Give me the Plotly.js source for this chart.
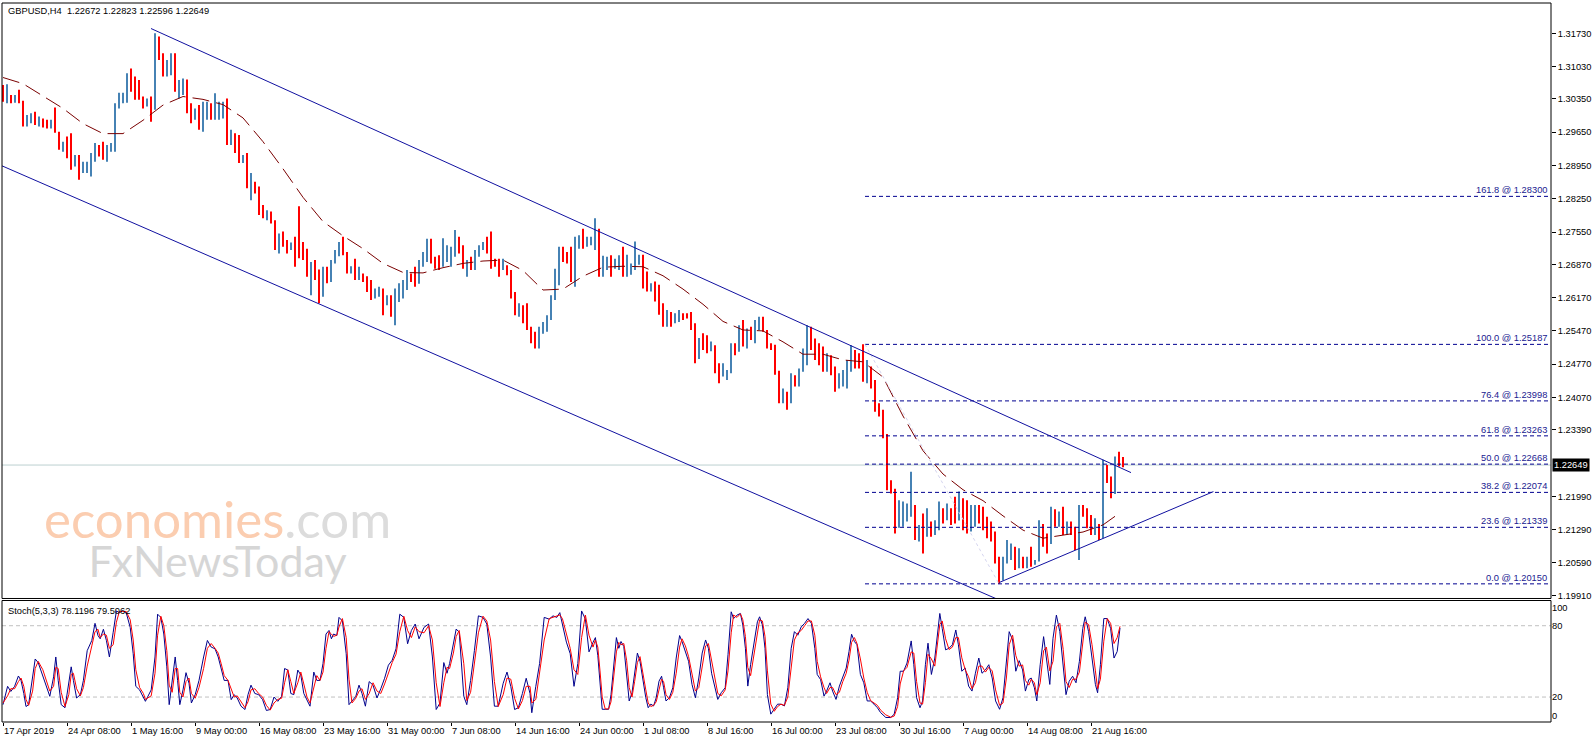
<!DOCTYPE html>
<html>
<head>
<meta charset="utf-8">
<script src="https://cdn.plot.ly/plotly-3.0.1.min.js"></script>
<style>
  html, body { margin: 0; padding: 0; background: #fff; }
  #chart { width: 1596px; height: 743px; }
</style>
</head>
<body>
<div id="chart"></div>
<script>
// GBPUSD H4. x is the H4 bar number; each price bar below covers two H4 bars.
const barStep = 2;
const firstOpen = 1.3045;

const highs = [
  1.3064,1.3066,1.3043,1.3043,1.3054,1.3031,1.3001,1.3005,1.3008,1.2998,
  1.2994,1.2991,1.2991,1.3017,1.2966,1.2945,1.2956,1.2963,1.2917,1.2917,
  1.2903,1.2903,1.2921,1.2942,1.2938,1.2945,1.2938,1.2942,1.3026,1.3048,
  1.3048,1.3089,1.3099,1.3082,1.3075,1.3040,1.3036,1.3040,1.3173,1.3166,
  1.3131,1.3117,1.3131,1.3131,1.3075,1.3078,1.3076,1.3026,1.3015,1.3022,
  1.3029,1.3029,1.3026,1.3047,1.3029,1.3029,1.3036,1.2970,1.2963,1.2959,
  1.2917,1.2921,1.2879,1.2861,1.2851,1.2812,1.2801,1.2798,1.2780,1.2752,
  1.2756,1.2738,1.2733,1.2745,1.2809,1.2734,1.2720,1.2692,1.2696,1.2676,
  1.2682,1.2682,1.2696,1.2717,1.2734,1.2745,1.2713,1.2683,1.2699,1.2682,
  1.2668,1.2662,1.2654,1.2636,1.2640,1.2636,1.2622,1.2622,1.2636,1.2647,
  1.2654,1.2675,1.2668,1.2682,1.2696,1.2713,1.2741,1.2741,1.2703,1.2706,
  1.2742,1.2727,1.2724,1.2759,1.2745,1.2727,1.2696,1.2703,1.2717,1.2727,
  1.2734,1.2745,1.2756,1.2699,1.2699,1.2699,1.2685,1.2675,1.2629,1.2605,
  1.2601,1.2605,1.2556,1.2545,1.2556,1.2566,1.2580,1.2622,1.2678,1.2724,
  1.2724,1.2713,1.2724,1.2745,1.2748,1.2762,1.2745,1.2745,1.2784,1.2762,
  1.2705,1.2703,1.2706,1.2699,1.2706,1.2724,1.2707,1.2689,1.2735,1.2707,
  1.2707,1.2672,1.2647,1.2651,1.2644,1.2605,1.2591,1.2587,1.2584,1.2591,
  1.2584,1.2584,1.2587,1.2563,1.2532,1.2542,1.2538,1.2525,1.2517,1.2479,
  1.2479,1.2465,1.2521,1.2521,1.2559,1.2570,1.2552,1.2556,1.2570,1.2577,
  1.2577,1.2549,1.2521,1.2518,1.2463,1.2426,1.2419,1.2458,1.2454,1.2468,
  1.2510,1.2559,1.2556,1.2531,1.2521,1.2514,1.2500,1.2496,1.2472,1.2458,
  1.2465,1.2486,1.2517,1.2507,1.2500,1.2519,1.2486,1.2472,1.2444,1.2395,
  1.2381,1.2330,1.2233,1.2215,1.2191,1.2188,1.2184,1.2251,1.2181,1.2139,
  1.2163,1.2174,1.2146,1.2149,1.2188,1.2174,1.2184,1.2174,1.2198,1.2209,
  1.2195,1.2191,1.2181,1.2181,1.2181,1.2177,1.2156,1.2146,1.2125,1.2072,
  1.2072,1.2107,1.2100,1.2093,1.2090,1.2072,1.2072,1.2093,1.2065,1.2149,
  1.2141,1.2121,1.2177,1.2172,1.2167,1.2177,1.2146,1.2146,1.2135,1.2181,
  1.2181,1.2174,1.2160,1.2153,1.2141,1.2276,1.2265,1.2241,1.2283,1.2293,1.2282
];
const lows = [
  1.3029,1.3026,1.3026,1.3027,1.3026,1.2977,1.2977,1.2984,1.2980,1.2977,
  1.2975,1.2973,1.2973,1.2964,1.2928,1.2924,1.2910,1.2886,1.2893,1.2865,
  1.2879,1.2879,1.2872,1.2903,1.2914,1.2907,1.2903,1.2924,1.2924,1.3015,
  1.3026,1.3027,1.3050,1.3033,1.3033,1.3015,1.3019,1.2987,1.3012,1.3117,
  1.3082,1.3082,1.3085,1.3050,1.3036,1.3043,1.3005,1.2984,1.2991,1.2970,
  1.2966,1.2991,1.2991,1.2991,1.2991,1.2994,1.2938,1.2938,1.2921,1.2900,
  1.2900,1.2847,1.2822,1.2836,1.2791,1.2784,1.2780,1.2773,1.2717,1.2710,
  1.2724,1.2710,1.2717,1.2682,1.2700,1.2696,1.2661,1.2622,1.2654,1.2605,
  1.2619,1.2647,1.2650,1.2689,1.2704,1.2706,1.2668,1.2668,1.2654,1.2654,
  1.2650,1.2629,1.2612,1.2615,1.2619,1.2580,1.2601,1.2577,1.2559,1.2608,
  1.2615,1.2633,1.2650,1.2640,1.2646,1.2682,1.2692,1.2689,1.2678,1.2675,
  1.2682,1.2692,1.2682,1.2703,1.2710,1.2678,1.2661,1.2675,1.2675,1.2703,
  1.2717,1.2710,1.2678,1.2682,1.2661,1.2675,1.2664,1.2615,1.2580,1.2577,
  1.2563,1.2549,1.2521,1.2510,1.2510,1.2541,1.2545,1.2570,1.2612,1.2643,
  1.2692,1.2689,1.2650,1.2640,1.2720,1.2720,1.2724,1.2727,1.2717,1.2661,
  1.2661,1.2675,1.2661,1.2678,1.2675,1.2661,1.2661,1.2665,1.2675,1.2686,
  1.2636,1.2630,1.2630,1.2609,1.2581,1.2556,1.2556,1.2556,1.2563,1.2566,
  1.2570,1.2573,1.2549,1.2479,1.2488,1.2507,1.2500,1.2504,1.2458,1.2437,
  1.2451,1.2444,1.2458,1.2496,1.2503,1.2514,1.2510,1.2528,1.2521,1.2549,
  1.2545,1.2510,1.2507,1.2455,1.2395,1.2395,1.2381,1.2395,1.2430,1.2430,
  1.2461,1.2475,1.2507,1.2486,1.2475,1.2461,1.2461,1.2454,1.2419,1.2426,
  1.2430,1.2426,1.2461,1.2468,1.2468,1.2440,1.2437,1.2426,1.2377,1.2367,
  1.2321,1.2212,1.2205,1.2121,1.2133,1.2135,1.2146,1.2156,1.2107,1.2104,
  1.2079,1.2114,1.2114,1.2118,1.2128,1.2142,1.2149,1.2139,1.2142,1.2148,
  1.2128,1.2121,1.2125,1.2135,1.2142,1.2128,1.2111,1.2104,1.2058,1.2015,
  1.2022,1.2058,1.2065,1.2044,1.2048,1.2048,1.2048,1.2051,1.2055,1.2062,
  1.2093,1.2079,1.2099,1.2135,1.2135,1.2118,1.2118,1.2118,1.2086,1.2065,
  1.2156,1.2132,1.2118,1.2118,1.2107,1.2111,1.2227,1.2195,1.2204,1.2262,1.2260
];
const closes = [
  1.3036,1.3050,1.3035,1.3038,1.3030,1.2985,1.2995,1.2998,1.2985,1.2988,
  1.2980,1.2978,1.2988,1.2966,1.2932,1.2935,1.2915,1.2890,1.2912,1.2872,
  1.2885,1.2895,1.2915,1.2935,1.2933,1.2915,1.2930,1.2938,1.3018,1.3040,
  1.3044,1.3080,1.3060,1.3040,1.3038,1.3022,1.3030,1.3028,1.3150,1.3125,
  1.3090,1.3095,1.3120,1.3055,1.3060,1.3065,1.3012,1.2995,1.3008,1.2990,
  1.3010,1.3020,1.3000,1.3010,1.3015,1.3022,1.2945,1.2960,1.2925,1.2905,
  1.2912,1.2852,1.2860,1.2845,1.2795,1.2788,1.2792,1.2778,1.2722,1.2745,
  1.2738,1.2720,1.2728,1.2725,1.2715,1.2705,1.2668,1.2685,1.2675,1.2612,
  1.2670,1.2655,1.2690,1.2705,1.2728,1.2712,1.2675,1.2678,1.2660,1.2662,
  1.2658,1.2635,1.2618,1.2630,1.2635,1.2590,1.2612,1.2590,1.2610,1.2640,
  1.2650,1.2670,1.2665,1.2648,1.2690,1.2706,1.2735,1.2695,1.2690,1.2680,
  1.2705,1.2710,1.2715,1.2750,1.2720,1.2685,1.2690,1.2682,1.2712,1.2722,
  1.2730,1.2715,1.2690,1.2688,1.2670,1.2680,1.2668,1.2620,1.2590,1.2595,
  1.2570,1.2555,1.2528,1.2518,1.2550,1.2555,1.2575,1.2615,1.2670,1.2715,
  1.2710,1.2705,1.2660,1.2735,1.2740,1.2730,1.2738,1.2742,1.2760,1.2668,
  1.2680,1.2690,1.2670,1.2685,1.2695,1.2668,1.2675,1.2685,1.2690,1.2695,
  1.2645,1.2635,1.2640,1.2615,1.2590,1.2565,1.2570,1.2565,1.2578,1.2580,
  1.2578,1.2576,1.2555,1.2490,1.2525,1.2515,1.2510,1.2512,1.2465,1.2450,
  1.2458,1.2460,1.2515,1.2505,1.2550,1.2525,1.2540,1.2535,1.2562,1.2565,
  1.2550,1.2518,1.2515,1.2462,1.2402,1.2410,1.2405,1.2450,1.2445,1.2462,
  1.2505,1.2530,1.2515,1.2495,1.2490,1.2468,1.2490,1.2460,1.2425,1.2440,
  1.2445,1.2480,1.2490,1.2480,1.2475,1.2450,1.2455,1.2432,1.2385,1.2378,
  1.2328,1.2220,1.2215,1.2135,1.2155,1.2160,1.2168,1.2180,1.2118,1.2125,
  1.2095,1.2130,1.2125,1.2130,1.2180,1.2160,1.2170,1.2158,1.2150,1.2170,
  1.2140,1.2130,1.2145,1.2160,1.2150,1.2135,1.2118,1.2110,1.2065,1.2025,
  1.2060,1.2085,1.2090,1.2050,1.2080,1.2058,1.2065,1.2060,1.2062,1.2140,
  1.2105,1.2100,1.2170,1.2150,1.2155,1.2130,1.2140,1.2125,1.2095,1.2165,
  1.2160,1.2140,1.2130,1.2140,1.2125,1.2255,1.2235,1.2205,1.2275,1.2267,1.2265
];

// dashed moving average
const maBar = [0,10,20,30,40,50,60,70,80,90,100,110,120,130,140,150,160,170,180,190,
  200,210,220,230,240,250,260,270,280,290,300,310,320,330,340,350,360,370,380,390,
  400,410,420,430,440,450,460,470,480,490,500,510,520,530,540,550,558];
const maValue = [1.3080,1.3067,1.3041,1.3015,1.2983,1.2962,1.2962,1.2990,1.3022,1.3040,
  1.3034,1.3023,1.2995,1.2945,1.2888,1.2828,1.2777,1.2747,1.2720,1.2689,
  1.2670,1.2669,1.2680,1.2689,1.2694,1.2696,1.2674,1.2633,1.2635,1.2662,
  1.2681,1.2683,1.2682,1.2663,1.2635,1.2603,1.2567,1.2549,1.2547,1.2524,
  1.2498,1.2498,1.2486,1.2482,1.2450,1.2368,1.2295,1.2246,1.2213,1.2190,
  1.2158,1.2128,1.2111,1.2118,1.2124,1.2139,1.2163];

// Stoch(5,3,3): main (%K) and signal (%D)
const stochBar = [
  0,2.3,3.9,5.8,7.7,9.0,10.4,11.5,12.8,14.8,
  16.1,17.6,19.9,21.8,23.4,25.3,26.4,27.6,29.1,31.0,
  32.9,34.1,35.2,36.8,38.7,40.2,42.1,44.4,46.0,47.5,
  48.6,50.2,51.7,53.2,55.1,56.7,58.2,59.7,61.6,63.6,
  65.1,66.4,68.3,70.2,71.2,74.1,76.0,77.3,78.9,80.4,
  81.9,83.1,84.6,86.1,87.3,88.4,90.0,91.5,93.0,94.2,
  96.1,98.0,100.3,102.2,104.1,106.0,107.6,109.1,110.6,112.5,
  114.1,115.6,117.1,119.0,121.0,122.5,124.0,125.9,127.8,129.8,
  131.7,133.6,135.5,137.4,139.3,140.8,142.4,143.9,145.4,147.4,
  148.9,150.4,152.0,153.5,155.4,156.9,158.5,160.0,161.5,163.0,
  164.2,165.3,166.9,168.0,169.7,171.6,173.0,174.5,176.4,178.0,
  179.5,181.2,183.1,185.0,187.0,188.9,190.8,192.7,194.6,196.5,
  198.4,200.4,202.3,204.2,206.1,208.0,210.5,212.8,214.7,216.6,
  218.5,220.4,222.0,223.3,225.2,226.6,228.1,230.4,231.9,233.8,
  235.7,237.7,240.0,241.9,243.8,245.7,247.6,250.1,252.0,253.9,
  255.8,257.7,259.7,261.6,263.5,264.4,266.4,268.3,270.6,273.1,
  275.0,276.9,278.4,279.7,281.7,283.6,285.5,287.4,289.3,291.2,
  293.0,295.0,296.2,297.4,298.5,299.6,301.1,302.8,304.0,305.3,
  306.7,307.9,309.0,310.4,311.8,313.1,314.5,315.8,317.2,318.5,
  319.9,321.4,322.6,323.9,325.3,326.6,328.0,329.3,330.3,331.5,
  333.2,334.9,336.6,338.3,339.5,341.2,342.8,344.5,346.2,347.9,
  349.6,351.3,352.7,354.3,356.0,357.4,359.1,361.1,362.5,364.1,
  365.3,367.0,368.7,369.9,371.2,372.4,373.8,375.5,377.2,378.3,
  379.7,381.0,382.2,383.9,385.6,387.3,389.0,390.7,392.4,394.1,
  395.7,397.4,399.1,400.8,402.5,404.2,405.9,407.1,408.8,410.5,
  411.8,413.5,414.8,416.5,418.2,419.9,421.6,423.0,424.3,425.7,
  427.0,428.7,430.4,432.1,433.8,435.5,437.2,438.8,441.4,443.9,
  445.6,447.3,448.6,450.3,452.0,454.1,455.4,456.8,458.5,459.8,
  461.2,462.5,464.2,465.9,467.2,468.4,469.6,471.3,473.0,474.7,
  476.4,477.7,479.4,481.1,482.8,484.5,486.2,487.9,489.5,491.2,
  492.9,494.6,496.3,498.3,500.0,501.7,503.1,504.8,506.4,508.1,
  509.8,511.2,512.9,514.1,515.7,516.9,518.6,520.3,521.7,523.4,
  525.0,526.7,528.4,530.1,531.5,533.1,534.8,536.5,538.2,539.9,
  541.1,542.8,544.5,546.2,547.3,548.7,550.4,552.1,553.8,555.5,
  557.1,558.5
];
const stochK = [
  13.6,29,24.7,29,37.7,34,23,12,13.6,37,
  52,49,37,29,20.6,37,53.7,34,13.6,11,
  33,45.4,34,19.2,22,34,59,67.6,82,71.7,
  69,77,67.6,53.7,74.5,92.4,91,92.4,91,78.6,
  56.5,29,26,19.2,16.4,26,53.7,89.7,87,73,
  45.4,13.6,34,53.7,34,13.6,26,40.5,31.6,15,
  22,34,53.7,67.6,62,60.6,53.7,42.7,34,34,
  17.8,22,19.2,12.3,9.5,22,30,23,22,17.8,
  8.7,9.5,20,16.4,20.6,44,42.7,23,22,42.7,
  38.5,23,17.8,12.3,41,34,34,48.2,73,76,
  69,73,71.7,87,84,56.5,13.6,16.4,20.6,30,
  23,12.3,33,30,19.2,27,35.8,46.8,51,60.6,
  89.7,87,64.8,76,81.4,69,78.6,81.4,53.7,9.5,
  15,49,40,48.2,64.8,77.2,74.5,20.6,13.6,34,
  59,88.3,87,81.4,53.7,12.3,12.3,31.6,41,29,
  9.5,11,23,35.8,23,6.8,29,48.2,87,85.5,
  88.3,87,91,81.4,66.2,56.5,29,48.2,92.4,85.5,
  58,66,70,55,30,9.7,9.7,9.7,22,47.2,
  70,61,66.7,62.5,39,16.7,23.6,41.7,57,50,
  33.3,19.4,11,14,12.5,19.4,33.3,37.5,27.8,16.7,
  19.4,27.8,52.8,71.7,66.7,58.3,50,30.6,19.4,36,
  57,68,61,40,27.8,18,23.6,27.8,55.6,91.7,
  86,88.9,90.3,80.6,61,29.2,47.2,64,83.3,87.5,
  80.6,61,22,5.6,9.7,14,14,12.5,27.8,61,
  75,72,79,82,86,82,61,39,34.7,20.8,
  25,32,25,18,29.2,36,44.4,58.3,72.8,66.7,
  64,39,32,16.7,16.7,14,11,6.9,2.8,2.8,
  5.6,19.4,41.7,41.7,48.6,67.2,47.2,19.4,11,16.7,
  47.2,65.3,39,52.8,72.2,90.3,77.8,59.7,61,64,
  76.4,64,41.7,44.4,29.2,25,40,52.8,40,42.8,
  47.2,36,16.7,9.7,19.4,52.8,75,68,41.7,50.6,
  42.8,25,34.7,36,27.8,16.7,47.2,70.8,54,30.6,
  69.4,88.9,75,44.4,22,33.3,37.5,32,50,77.8,
  87.5,75,52.8,30.6,23.6,47.2,86,86,77.8,52.8,
  58.3,78.1
];
const stochD = [
  15,21,27,27,33,36,29,18,13,25,
  44,50,43,33,25,29,45,44,24,12,
  22,39,40,27,21,28,46,63,75,77,
  70,73,72,61,64,83,92,92,92,85,
  68,43,28,23,18,21,40,72,88,80,
  59,30,24,44,44,24,20,33,36,23,
  19,28,44,61,65,61,57,48,38,34,
  26,20,21,16,11,16,26,27,23,20,
  13,9,15,18,19,32,43,33,23,32,
  41,31,20,15,27,38,34,41,61,75,
  73,71,72,79,86,70,35,15,19,25,
  27,18,23,32,25,23,31,41,49,56,
  75,88,76,70,79,75,74,80,68,32,
  12,32,45,44,57,71,76,48,17,24,
  47,74,88,84,68,33,12,22,36,35,
  19,10,17,29,29,15,18,39,68,86,
  87,88,89,86,74,61,43,39,70,89,
  72,62,68,62,42,20,10,10,16,35,
  58,66,64,65,51,28,20,33,49,54,
  42,26,15,12,13,16,26,35,33,22,
  18,24,40,62,69,63,54,40,25,28,
  47,63,65,51,34,23,21,26,42,74,
  89,87,90,85,71,45,38,56,74,85,
  84,71,42,14,8,12,14,13,20,44,
  68,74,76,80,84,84,72,50,37,28,
  23,28,28,22,24,33,40,51,66,70,
  65,52,36,24,17,15,13,9,5,3,
  4,12,31,42,45,58,57,33,15,14,
  32,56,52,46,62,81,84,69,60,62,
  70,70,53,43,37,27,32,46,46,41,
  45,42,26,13,15,36,64,72,55,46,
  47,34,30,35,32,22,32,59,62,42,
  50,79,82,60,33,28,35,35,41,64,
  83,81,64,42,27,35,67,86,82,65,
  70,79.5
];

// trend lines: [start, end] as bar number and price
const upperChannelBar = [74, 564];
const upperChannelPrice = [1.3183, 1.2249];
const lowerChannelBar = [-1.5, 497];
const lowerChannelPrice = [1.2896, 1.1983];
const supportBar = [498.2, 605.2];
const supportPrice = [1.2018, 1.2209];

// Fibonacci retracement from the 1.25187 high to the 1.20150 low
const fibStartBar = 431;
const fibEndBar = 498;
const fibRatios = ['161.8', '100.0', '76.4', '61.8', '50.0', '38.2', '23.6', '0.0'];
const fibPrices = [1.28300, 1.25187, 1.23998, 1.23263, 1.22668, 1.22074, 1.21339, 1.20150];

const lastPrice = 1.22649;
const priceTicks = [1.3173,1.3103,1.3035,1.2965,1.2895,1.2825,1.2755,1.2687,1.2617,
  1.2547,1.2477,1.2407,1.2339,1.2199,1.2129,1.2059,1.1991];
const stochLevels = [20, 80];
const stochTickVals = [4.6, 20, 80, 95.5];
const stochTickText = ['0', '20', '80', '100'];

const labelBars = [0,32,64,96,128,160,192,224,256,288,320,352,384,416,448,480,512,544];
const labelText = ['17 Apr 2019','24 Apr 08:00','1 May 16:00','9 May 00:00','16 May 08:00',
  '23 May 16:00','31 May 00:00','7 Jun 08:00','14 Jun 16:00','24 Jun 00:00','1 Jul 08:00',
  '8 Jul 16:00','16 Jul 00:00','23 Jul 08:00','30 Jul 16:00','7 Aug 00:00','14 Aug 08:00',
  '21 Aug 16:00'];

const font = 'Liberation Sans, Arial, sans-serif';
const fontSize = 9.3;
const xMax = 774;
const mainBottom = 0.17177;
const stochTop = 0.16898;

const bars = highs.map((_, i) => i * barStep);
const opens = closes.map((c, i) => i === 0 ? firstOpen : closes[i - 1]);

const traces = [
  {
    type: 'ohlc', x: bars, open: opens, high: highs, low: lows, close: closes,
    xaxis: 'x', yaxis: 'y', tickwidth: 0, hoverinfo: 'skip',
    increasing: {line: {color: '#4682b4', width: 2}},
    decreasing: {line: {color: '#ff0000', width: 2}}
  },
  {
    type: 'scatter', mode: 'lines', x: maBar, y: maValue, xaxis: 'x', yaxis: 'y',
    line: {color: '#7a0000', width: 1, dash: '17px,7px'}, hoverinfo: 'skip'
  }
];

// fib lines in one trace, broken with nulls
const fibX = [], fibY = [];
fibPrices.forEach(p => { fibX.push(fibStartBar, xMax, null); fibY.push(p, p, null); });
traces.push({
  type: 'scatter', mode: 'lines', x: fibX, y: fibY, xaxis: 'x', yaxis: 'y',
  line: {color: '#000090', width: 1, dash: '4px,3px'}, hoverinfo: 'skip'
});
traces.push({
  type: 'scatter', mode: 'lines', x: [fibStartBar, fibEndBar], y: [fibPrices[1], fibPrices[7]],
  xaxis: 'x', yaxis: 'y', line: {color: '#d4d4ee', width: 1, dash: 'dot'}, hoverinfo: 'skip'
});

[[upperChannelBar, upperChannelPrice], [lowerChannelBar, lowerChannelPrice],
 [supportBar, supportPrice]].forEach(([bx, py]) => {
  traces.push({
    type: 'scatter', mode: 'lines', x: bx, y: py, xaxis: 'x', yaxis: 'y',
    line: {color: '#1010a0', width: 1}, hoverinfo: 'skip'
  });
});

traces.push({
  type: 'scatter', mode: 'lines', x: stochBar, y: stochK, xaxis: 'x', yaxis: 'y2',
  line: {color: '#00008b', width: 1}, hoverinfo: 'skip'
});
traces.push({
  type: 'scatter', mode: 'lines', x: stochBar, y: stochD, xaxis: 'x', yaxis: 'y2',
  line: {color: '#ff0000', width: 1}, hoverinfo: 'skip'
});

const shapes = [
  {type: 'line', xref: 'paper', x0: 0, x1: 1, yref: 'y', y0: lastPrice, y1: lastPrice,
   line: {color: '#bcd0d0', width: 1}, layer: 'below'},
  {type: 'rect', xref: 'paper', x0: 0, x1: 1, yref: 'paper', y0: mainBottom, y1: 1,
   line: {color: '#000', width: 1}},
  {type: 'rect', xref: 'paper', x0: 0, x1: 1, yref: 'paper', y0: 0, y1: stochTop,
   line: {color: '#000', width: 1}}
];
stochLevels.forEach(v => shapes.push({
  type: 'line', xref: 'paper', x0: 0, x1: 1, yref: 'y2', y0: v, y1: v,
  line: {color: '#c0c0c0', width: 1, dash: '4px,3px'}, layer: 'below'
}));

const annotations = [
  {xref: 'paper', x: 0, xanchor: 'left', xshift: 4, yref: 'paper', y: 1, yanchor: 'top', yshift: -1,
   text: 'GBPUSD,H4&nbsp; 1.22672 1.22823 1.22596 1.22649', showarrow: false},
  {xref: 'paper', x: 0, xanchor: 'left', xshift: 4, yref: 'paper', y: stochTop, yanchor: 'top', yshift: -3,
   text: 'Stoch(5,3,3) 78.1196 79.5062', showarrow: false},
  {xref: 'paper', x: 1, xanchor: 'left', xshift: 1, yref: 'y', y: lastPrice, yanchor: 'middle',
   text: lastPrice.toFixed(5), bgcolor: '#000', borderpad: 1, font: {color: '#fff'}, showarrow: false},
  // watermark: two lines in one text block
  {xref: 'paper', x: 0.1394, xanchor: 'center', yref: 'paper', y: 0.2573, yanchor: 'middle', align: 'center',
   text: '<span style="font-size:51px;color:#fbcdb0">economies</span>' +
         '<span style="font-size:51px;color:#dcdcdc">.com</span><br>' +
         '<span style="font-size:43px;color:#d6d6d6">FxNewsToday</span>',
   font: {family: 'Lato, sans-serif', size: 30, color: '#d6d6d6'}, showarrow: false}
];
fibPrices.forEach((p, k) => annotations.push({
  xref: 'paper', x: 1, xanchor: 'right', xshift: -2, yref: 'y', y: p, yanchor: 'bottom', yshift: -1,
  text: fibRatios[k] + ' @ ' + p.toFixed(5), font: {color: '#202090'}, showarrow: false
}));
labelBars.forEach((b, k) => annotations.push({
  xref: 'x', x: b, xanchor: 'left', xshift: -1, yref: 'paper', y: 0, yanchor: 'top', yshift: -2,
  text: labelText[k], showarrow: false
}));

const layout = {
  width: 1596, height: 743,
  margin: {l: 2, r: 45, t: 3, b: 21},
  paper_bgcolor: '#fff', plot_bgcolor: '#fff',
  showlegend: false, hovermode: false,
  font: {family: font, size: fontSize, color: '#000'},
  xaxis: {
    domain: [0, 1], range: [-0.5, xMax], anchor: 'y2',
    showgrid: false, zeroline: false, showline: false,
    tickvals: labelBars, ticktext: labelBars.map(() => ''),
    ticks: 'outside', ticklen: 3, tickcolor: '#000',
    rangeslider: {visible: false}, fixedrange: true
  },
  yaxis: {
    domain: [mainBottom, 1], range: [1.19842, 1.32367], side: 'right', anchor: 'x',
    showgrid: false, zeroline: false, showline: false,
    tickvals: priceTicks, ticktext: priceTicks.map(v => v.toFixed(5)),
    ticks: 'outside', ticklen: 4, tickcolor: '#000', fixedrange: true
  },
  yaxis2: {
    domain: [0, stochTop], range: [-1, 101.2], side: 'right', anchor: 'x',
    showgrid: false, zeroline: false, showline: false,
    tickvals: stochTickVals, ticktext: stochTickText, ticks: '', fixedrange: true
  },
  shapes: shapes,
  annotations: annotations
};

Plotly.newPlot('chart', traces, layout, {staticPlot: true, displayModeBar: false});
</script>
</body>
</html>
